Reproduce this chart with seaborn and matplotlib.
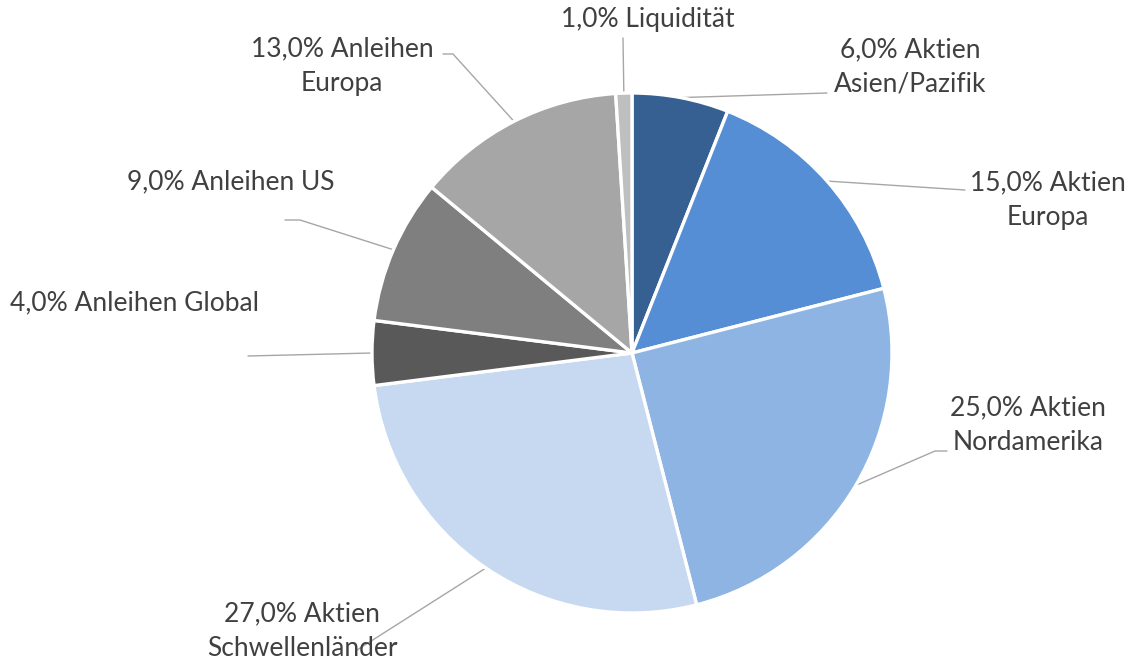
import numpy as np
import matplotlib
matplotlib.use("Agg")
import matplotlib.pyplot as plt
import seaborn as sns

# Daten
labels = ["Aktien\nAsien/Pazifik", "Aktien\nEuropa", "Aktien\nNordamerika",
          "Aktien\nSchwellenländer", "Anleihen Global", "Anleihen US",
          "Anleihen\nEuropa", "Liquidität"]
values = [6.0, 15.0, 25.0, 27.0, 4.0, 9.0, 13.0, 1.0]
colors = ["#376092", "#558ED5", "#8EB4E3", "#C6D9F1",
          "#595959", "#7F7F7F", "#A6A6A6", "#BFBFBF"]

sns.set_theme(style="white")
plt.rcParams["font.family"] = ["Lato", "DejaVu Sans"]

W, H = 1128, 660
fig = plt.figure(figsize=(W / 100, H / 100), dpi=100)
ax = fig.add_axes([0, 0, 1, 1])

cx, cy, r = 632, H - 353, 260
ax.pie(values, colors=colors, startangle=90, counterclock=False,
       center=(cx, cy), radius=r, frame=True,
       wedgeprops=dict(edgecolor="white", linewidth=2.4))
ax.set_xlim(0, W)
ax.set_ylim(0, H)
ax.set_aspect("equal")
ax.axis("off")

# Beschriftung: Textposition (px, oben=0), Ausrichtung, Knickpunkte der Führungslinie
layout = [
    ((910, 67), "center", [(827, 93)]),
    ((1048, 200), "center", [(965, 190)]),
    ((1028, 425), "center", [(935, 451), (947, 451)]),
    ((302, 631), "center", [(357, 650)]),
    ((10, 303), "left", [(248, 356)]),
    ((231, 182), "center", [(300, 220), (285, 220)]),
    ((342, 66), "center", [(453, 54), (443, 54)]),
    ((648, 20), "center", [(623, 38)]),
]

cum = np.cumsum([0] + values)
for i, (lab, val) in enumerate(zip(labels, values)):
    mid = (cum[i] + val / 2) / 100
    ang = np.deg2rad(90 - 360 * mid)
    x0, y0 = cx + r * np.cos(ang), cy + r * np.sin(ang)
    (tx, ty), ha, pts = layout[i]
    xs = [x0] + [p[0] for p in pts]
    ys = [y0] + [H - p[1] for p in pts]
    ax.plot(xs, ys, color="#A6A6A6", lw=1, zorder=0.5)
    txt = f"{val:.1f}".replace(".", ",") + "% " + lab
    ax.text(tx, H - ty, txt, ha=ha, va="center", fontsize=19,
            color="#404040", linespacing=1.45, zorder=3)

fig.savefig("out.png", dpi=100, facecolor="white")
